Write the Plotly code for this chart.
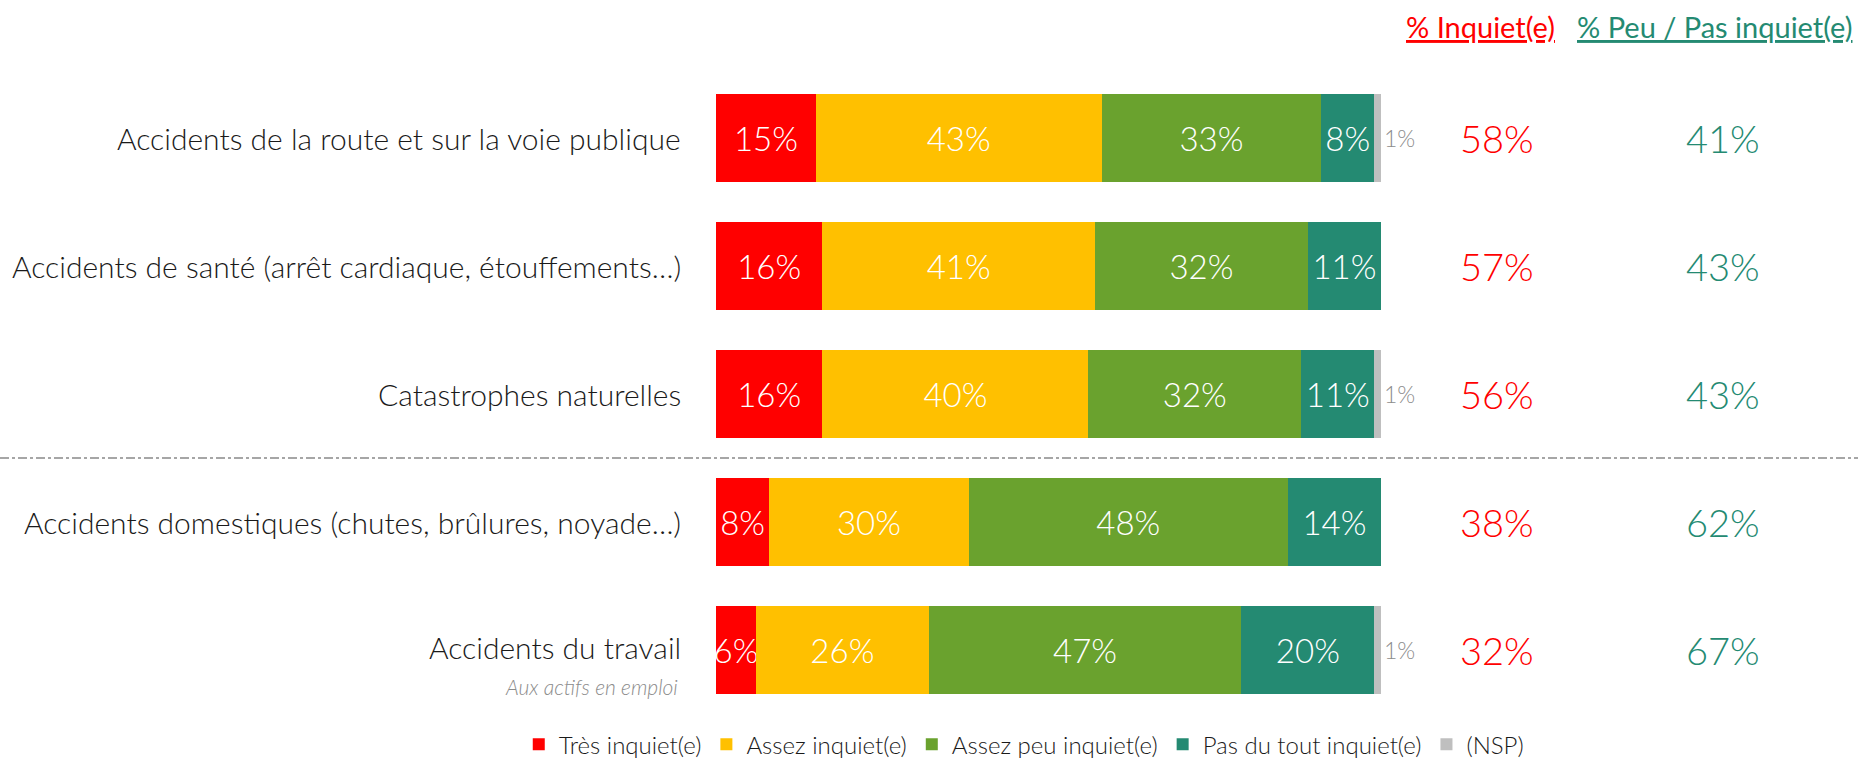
import plotly.graph_objects as go

categories = [
    "Accidents de la route et sur la voie publique",
    "Accidents de santé (arrêt cardiaque, étouffements…)",
    "Catastrophes naturelles",
    "Accidents domestiques (chutes, brûlures, noyade…)",
    "Accidents du travail",
]
subtitles = ["", "", "", "", "Aux actifs en emploi"]

tres_inquiet = [15, 16, 16, 8, 6]
assez_inquiet = [43, 41, 40, 30, 26]
assez_peu_inquiet = [33, 32, 32, 48, 47]
pas_du_tout_inquiet = [8, 11, 11, 14, 20]
nsp = [1, 0, 1, 0, 1]

series_names = ["Très inquiet(e)", "Assez inquiet(e)", "Assez peu inquiet(e)",
                "Pas du tout inquiet(e)", "(NSP)"]
series_values = [tres_inquiet, assez_inquiet, assez_peu_inquiet, pas_du_tout_inquiet, nsp]
series_colors = ["#FF0000", "#FFC000", "#6AA22E", "#248A72", "#BFBFBF"]

total_inquiet = [a + b for a, b in zip(tres_inquiet, assez_inquiet)]
total_peu = [a + b for a, b in zip(assez_peu_inquiet, pas_du_tout_inquiet)]

header_inquiet = "% Inquiet(e)"
header_peu = "% Peu / Pas inquiet(e)"

FONT = "Lato"
RED = "#FF0000"
GREEN = "#248A72"

fig = go.Figure()
for i, (name, vals, col) in enumerate(zip(series_names, series_values, series_colors)):
    is_nsp = i == len(series_names) - 1
    texts = [(f"{v}%" if v > 0 else "") for v in vals]
    fig.add_trace(go.Bar(
        y=categories, x=vals, name=name, orientation="h",
        marker=dict(color=col, line=dict(width=0)),
        text=texts, texttemplate="%{text}",
        textposition="outside" if is_nsp else "inside",
        insidetextanchor="middle",
        constraintext="none",
        textangle=0,
        textfont=dict(family=FONT, size=33, color="white", weight=300),
        outsidetextfont=dict(family=FONT, size=23, color="#8C8C8C", weight=300),
        cliponaxis=False,
        hoverinfo="skip",
    ))

annotations = []
for cat, sub, ti, tp in zip(categories, subtitles, total_inquiet, total_peu):
    annotations.append(dict(x=0, y=cat, xref="x", yref="y", text=cat, showarrow=False,
                            xanchor="right", yanchor="middle", xshift=-33, yshift=0 if not sub else 3,
                            font=dict(family=FONT, size=30, color="#1A1A1A", weight=300)))
    if sub:
        annotations.append(dict(x=0, y=cat, xref="x", yref="y", text=f"<i>{sub}</i>", showarrow=False,
                                xanchor="right", yanchor="middle", xshift=-36, yshift=-36,
                                font=dict(family=FONT, size=21, color="#8C8C8C", weight=300)))
    annotations.append(dict(x=117.4, y=cat, xref="x", yref="y", text=f"{ti}%", showarrow=False,
                            xanchor="center", yanchor="middle",
                            font=dict(family=FONT, size=38, color=RED, weight=300)))
    annotations.append(dict(x=151.4, y=cat, xref="x", yref="y", text=f"{tp}%", showarrow=False,
                            xanchor="center", yanchor="middle",
                            font=dict(family=FONT, size=38, color=GREEN, weight=300)))

annotations.append(dict(x=114.9, y=0.965, xref="x", yref="paper", text=f"<u>{header_inquiet}</u>",
                        showarrow=False, xanchor="center", yanchor="middle",
                        font=dict(family=FONT, size=29, color=RED)))
annotations.append(dict(x=150.2, y=0.965, xref="x", yref="paper", text=f"<u>{header_peu}</u>",
                        showarrow=False, xanchor="center", yanchor="middle",
                        font=dict(family=FONT, size=29, color=GREEN)))

fig.add_shape(type="line", xref="paper", yref="y", x0=0, x1=1, y0=2.5, y1=2.5,
              line=dict(color="#A6A6A6", width=2, dash="dashdot"))

fig.update_layout(
    width=1858, height=761,
    margin=dict(l=0, r=0, t=0, b=0, autoexpand=False),
    paper_bgcolor="white", plot_bgcolor="white",
    barmode="stack", bargap=0.31,
    font=dict(family=FONT, color="#1A1A1A"),
    xaxis=dict(range=[-716 / 6.65, (1858 - 716) / 6.65], visible=False, fixedrange=True),
    yaxis=dict(type="category", range=[4.867, -1.078], visible=False, fixedrange=True),
    showlegend=True,
    legend=dict(orientation="h", x=0.551, xanchor="center", y=-0.008, yanchor="bottom",
                traceorder="normal", font=dict(family=FONT, size=24, color="#1A1A1A", weight=300),
                itemwidth=30, bgcolor="rgba(0,0,0,0)"),
    annotations=annotations,
)

fig.write_html("out.html", config={"displayModeBar": False},
               post_script="document.body.style.margin='0';document.body.style.overflow='hidden';")
